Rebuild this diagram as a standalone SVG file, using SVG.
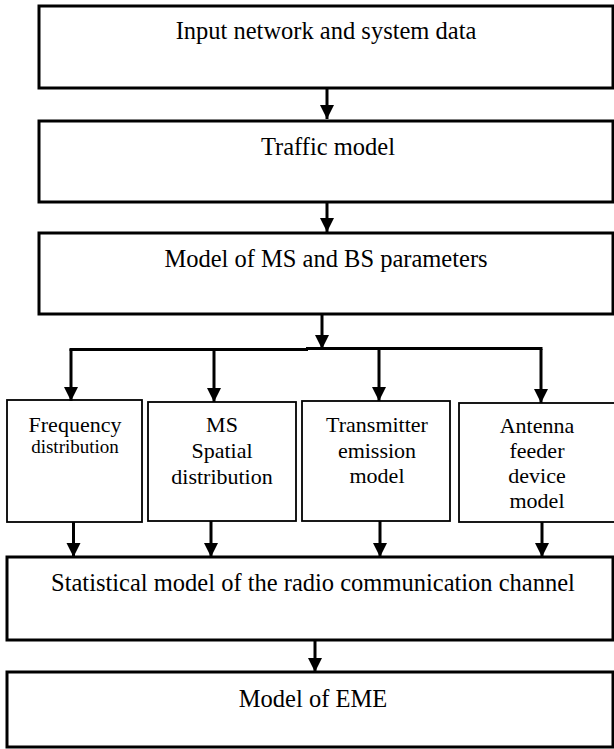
<svg xmlns="http://www.w3.org/2000/svg" width="614" height="749" viewBox="0 0 614 749">
<style>
.big{fill:#fff;stroke:#000;stroke-width:3}
.small{fill:#fff;stroke:#000;stroke-width:1.8}
text{font-family:'Liberation Serif',Tinos,'Times New Roman','DejaVu Serif',serif;fill:#000;text-anchor:middle}
.t{font-size:24.5px}
.s{font-size:22px}
.c{fill:none;stroke:#000;stroke-width:3}
</style>
<defs>
<marker id="ah" viewBox="0 0 14 15" refX="14" refY="7" markerWidth="14" markerHeight="15" markerUnits="userSpaceOnUse" orient="auto">
<path d="M0,0 L14,7 L0,14 z" fill="#000"/>
</marker>
</defs>
<rect width="614" height="749" fill="#fff"/>
<g id="n1"><rect class="big" x="39" y="6" width="574" height="82"/><text class="t" x="326" y="39" font-family="Liberation Serif, serif">Input network and system data</text></g>
<g id="n2"><rect class="big" x="39" y="121" width="574" height="81"/><text class="t" x="328" y="155" font-family="Liberation Serif, serif">Traffic model</text></g>
<g id="n3"><rect class="big" x="39" y="233" width="574" height="81"/><text class="t" x="326" y="267" font-family="Liberation Serif, serif">Model of MS and BS parameters</text></g>
<g id="n4"><rect class="small" x="7" y="400" width="135" height="122"/><text class="s" x="75" y="432" font-family="Liberation Serif, serif">Frequency</text><text class="s" x="75" y="453" style="font-size:19px" font-family="Liberation Serif, serif">distribution</text></g>
<g id="n5"><rect class="small" x="148" y="402" width="148" height="119"/><text class="s" x="222" y="432" font-family="Liberation Serif, serif">MS</text><text class="s" x="222" y="458" font-family="Liberation Serif, serif">Spatial</text><text class="s" x="222" y="484" font-family="Liberation Serif, serif">distribution</text></g>
<g id="n6"><rect class="small" x="302" y="401" width="148" height="120"/><text class="s" x="377" y="432" font-family="Liberation Serif, serif">Transmitter</text><text class="s" x="377" y="458" font-family="Liberation Serif, serif">emission</text><text class="s" x="377" y="483" font-family="Liberation Serif, serif">model</text></g>
<g id="n7"><rect class="small" x="459" y="403" width="160" height="119"/><text class="s" x="537" y="433" font-family="Liberation Serif, serif">Antenna</text><text class="s" x="537" y="458" font-family="Liberation Serif, serif">feeder</text><text class="s" x="537" y="483" font-family="Liberation Serif, serif">device</text><text class="s" x="537" y="508" font-family="Liberation Serif, serif">model</text></g>
<g id="n8"><rect class="big" x="7" y="557" width="606" height="83"/><text class="t" x="313" y="591" font-family="Liberation Serif, serif">Statistical model of the radio communication channel</text></g>
<g id="n9"><rect class="big" x="7" y="672" width="606" height="75"/><text class="t" x="313" y="707" font-family="Liberation Serif, serif">Model of EME</text></g>
<g id="connectors">
<path class="c" d="M327,88 V119" marker-end="url(#ah)"/>
<path class="c" d="M327,202 V232" marker-end="url(#ah)"/>
<path class="c" d="M322,314 V349" marker-end="url(#ah)"/>
<path class="c" d="M69.5,349.5 H308"/>
<path class="c" d="M306,348.5 H542.5"/>
<path class="c" d="M71,349 V401" marker-end="url(#ah)"/>
<path class="c" d="M214,349 V402" marker-end="url(#ah)"/>
<path class="c" d="M379,349 V401" marker-end="url(#ah)"/>
<path class="c" d="M541,349 V403" marker-end="url(#ah)"/>
<path class="c" d="M73.5,522 V557" marker-end="url(#ah)"/>
<path class="c" d="M211,521 V557" marker-end="url(#ah)"/>
<path class="c" d="M380,521 V557" marker-end="url(#ah)"/>
<path class="c" d="M542,522 V557" marker-end="url(#ah)"/>
<path class="c" d="M315,640 V672" marker-end="url(#ah)"/>
</g>
</svg>
